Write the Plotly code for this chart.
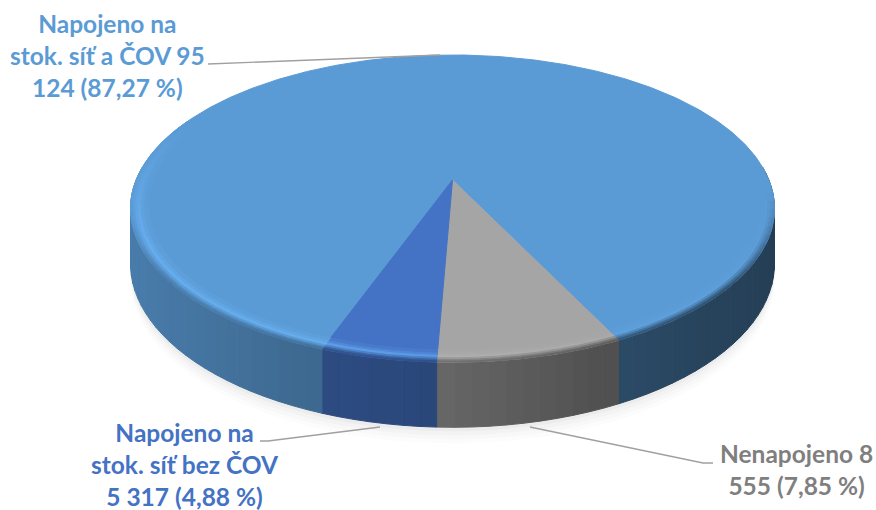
import numpy as np
import plotly.graph_objects as go

# Connection of inhabitants to the sewer network
series_names = ["Napojeno na stok. síť a ČOV", "Nenapojeno", "Napojeno na stok. síť bez ČOV"]
series_values = [95124, 8555, 5317]
series_colors = [(91, 155, 213), (165, 165, 165), (68, 114, 196)]
first_slice_angle = 199.9

label_texts = [
    "Napojeno na<br>stok. síť a ČOV 95<br>124 (87,27 %)",
    "Nenapojeno 8<br>555 (7,85 %)",
    "Napojeno na<br>stok. síť bez ČOV<br>5 317 (4,88 %)",
]
label_colors = ["#5b9bd5", "#7f7f7f", "#4472c4"]
label_positions = [(107, 55), (796, 469.5), (185, 464.5)]
leader_lines = [
    ([208, 440], [64, 55]),
    ([530, 703, 713], [427, 463, 463]),
    ([260, 268, 380], [441, 441, 427]),
]

# Perspective disc: centre, half axes, depth foreshortening and rim thickness
CX, CY, A, B, K, DEPTH = 452.5, 180.0, 316.4, 148.3, 0.186, 53.0


def project(theta_deg, r=1.0, z=0.0):
    t = np.radians(theta_deg)
    u, v = r * np.sin(t), r * np.cos(t)
    w = 1 + K * v
    return CX + A * u / w, CY - B * v / w + DEPTH * z / w


def side_shade(x):
    return np.interp(x, [131, 330, 440, 600, 775], [0.80, 0.66, 0.62, 0.49, 0.40])


def rgb(c):
    return "rgb(%d,%d,%d)" % tuple(int(round(min(255, max(0, ch)))) for ch in c)


def mix(a, b, f):
    return tuple(a[i] + (b[i] - a[i]) * f for i in range(3))


def add_poly(fig, xs, ys, color, opacity=None):
    fig.add_trace(go.Scatter(
        x=xs, y=ys, mode="lines", fill="toself", fillcolor=color,
        line=dict(color=color, width=1.0 if opacity is None else 0),
        opacity=opacity, hoverinfo="skip", showlegend=False,
    ))


def split_edges(lo, hi):
    found = [lo, hi]
    for s0, s1, _ in spans:
        for edge in (s0, s1):
            e = edge % 360
            if lo < e < hi:
                found.append(e)
    return sorted(set(found))


# Slice spans in degrees, clockwise from the back of the disc
total = sum(series_values)
spans = []
start = first_slice_angle
for value, color in zip(series_values, series_colors):
    sweep = 360.0 * value / total
    spans.append((start, start + sweep, color))
    start += sweep


def color_at(theta):
    for s0, s1, color in spans:
        for off in (0, 360, -360):
            if s0 <= theta + off <= s1:
                return color
    return spans[0][2]


fig = go.Figure()

# Soft drop shadow under the disc
theta_ring = np.linspace(0, 360, 181)
for grow, alpha in [(16, 0.025), (12, 0.03), (8, 0.04), (4, 0.05)]:
    xs, ys = project(theta_ring, 1.0, 1.0)
    add_poly(fig, xs, ys + grow, "rgb(120,120,120)", alpha)

# Rim, shaded strip by strip from left to right
edges = split_edges(85.0, 275.0)
for e0, e1 in zip(edges[:-1], edges[1:]):
    n = max(1, int((e1 - e0) / 2.5))
    steps = np.linspace(e0, e1, n + 1)
    for t0, t1 in zip(steps[:-1], steps[1:]):
        mid = (t0 + t1) / 2
        tt = np.array([t0, t1])
        x_top, y_top = project(tt)
        x_bot, y_bot = project(tt, 1.0, 1.0)
        shade = side_shade(project(mid)[0])
        base = color_at(mid)
        add_poly(fig,
                 [x_top[0], x_top[1], x_bot[1], x_bot[0], x_top[0]],
                 [y_top[0], y_top[1], y_bot[1], y_bot[0], y_top[0]],
                 rgb(tuple(ch * shade for ch in base)))

# Top face wedges
for s0, s1, color in spans:
    tt = np.linspace(s0, s1, max(3, int(s1 - s0) * 2))
    xs, ys = project(tt)
    add_poly(fig, np.r_[CX, xs, CX], np.r_[CY, ys, CY], rgb(color))

# Bevel along the near edge: face colour, bright crest, then down into the rim colour
bands = [(0.945, 0.96, 0.15, 0.0), (0.96, 0.97, 0.4, 0.0), (0.97, 0.98, 0.75, 0.0),
         (0.98, 0.988, 0.6, 0.25), (0.988, 0.995, 0.35, 0.55), (0.995, 1.0, 0.15, 0.8)]
edges = split_edges(95.0, 295.0)
for e0, e1 in zip(edges[:-1], edges[1:]):
    n = max(1, int((e1 - e0) / 3))
    steps = np.linspace(e0, e1, n + 1)
    for t0, t1 in zip(steps[:-1], steps[1:]):
        mid = (t0 + t1) / 2
        base = color_at(mid)
        strength = np.interp(mid, [95, 150, 190, 245, 295], [0.0, 0.3, 1.0, 1.0, 0.0])
        is_grey = base[0] == base[2]
        highlight = mix(base, (190, 190, 190), 0.6) if is_grey else mix(base, (110, 185, 255), 0.8)
        px = project(mid)[0]
        shaded = tuple(ch * side_shade(px) for ch in base)
        # the dark lip only shows where the rim is visible below the face
        fade = np.interp(mid, [95, 130, 235, 262], [0.0, 1.0, 1.0, 0.0])
        for r0, r1, a, s in bands:
            x0, y0 = project(np.array([t0, t1]), r0)
            x1, y1 = project(np.array([t0, t1]), r1)
            col = mix(mix(base, highlight, a * strength), shaded, s * fade)
            add_poly(fig,
                     [x0[0], x0[1], x1[1], x1[0], x0[0]],
                     [y0[0], y0[1], y1[1], y1[0], y0[0]],
                     rgb(col))

# Leader lines
for lx, ly in leader_lines:
    fig.add_trace(go.Scatter(x=lx, y=ly, mode="lines", line=dict(color="#a0a0a0", width=1.4),
                             hoverinfo="skip", showlegend=False))

for text, color, (tx, ty) in zip(label_texts, label_colors, label_positions):
    fig.add_annotation(x=tx, y=ty, text="<b>%s</b>" % text, showarrow=False,
                       xanchor="center", yanchor="middle", align="center",
                       font=dict(family="Lato", size=24.5, color=color))

fig.update_xaxes(range=[0, 876], visible=False, fixedrange=True)
fig.update_yaxes(range=[510, 0], visible=False, fixedrange=True)
fig.update_layout(width=876, height=510, margin=dict(l=0, r=0, t=0, b=0),
                  paper_bgcolor="white", plot_bgcolor="white", showlegend=False)

fig.write_html("out.html", config={"displayModeBar": False})
